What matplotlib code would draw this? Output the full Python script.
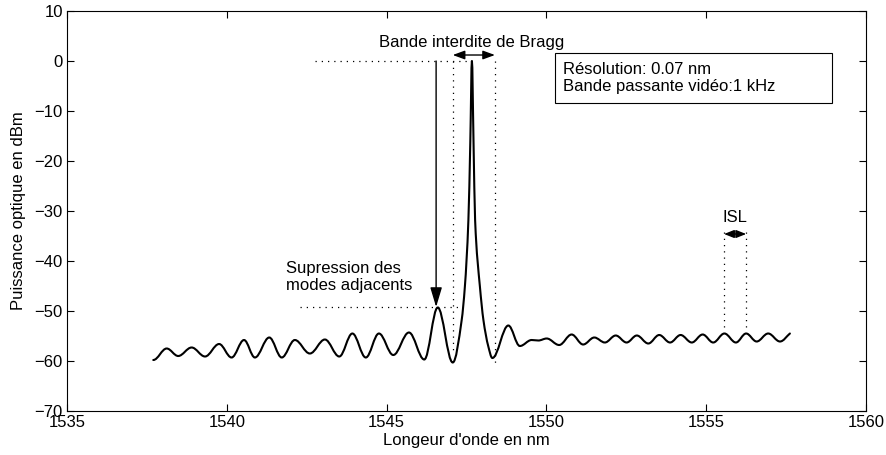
import numpy as np
import matplotlib
matplotlib.use("Agg")
import matplotlib.pyplot as plt
from matplotlib.path import Path
from matplotlib.patches import PathPatch, Rectangle

plt.rcParams["font.family"] = ["Liberation Sans", "DejaVu Sans"]
plt.rcParams["font.size"] = 12

# ── Spectrum (extrema + points on the main peak) ───────────────────────────
wavelength = [
    1537.70, 1538.12, 1538.48, 1538.90, 1539.32, 1539.76, 1540.15, 1540.54,
    1540.88, 1541.33, 1541.72, 1542.13, 1542.60, 1543.07, 1543.52, 1543.93,
    1544.35, 1544.76, 1545.21, 1545.70, 1546.18, 1546.60, 1547.07,
    1547.35, 1547.45, 1547.56, 1547.62, 1547.67, 1547.72, 1547.77, 1547.92,
    1548.03, 1548.18, 1548.31,
    1548.81, 1549.17, 1549.54, 1549.75, 1550.01, 1550.40, 1550.79, 1551.15,
    1551.50, 1551.83, 1552.17, 1552.51, 1552.83, 1553.19, 1553.53, 1553.87,
    1554.20, 1554.55, 1554.89, 1555.22, 1555.57, 1555.93, 1556.25, 1556.58,
    1556.94, 1557.31, 1557.62,
]
power_dbm = [
    -59.8, -57.5, -59.0, -57.3, -59.1, -56.6, -59.3, -55.8,
    -59.3, -55.3, -59.3, -55.8, -58.5, -55.7, -59.1, -54.5,
    -59.3, -54.5, -58.8, -54.3, -59.7, -49.3, -60.3,
    -51.8, -45.1, -31.8, -16.0, 0.0, -16.0, -31.8, -45.1,
    -51.8, -57.0, -59.4,
    -52.9, -57.0, -55.8, -55.9, -55.5, -56.8, -54.7, -56.7,
    -55.3, -56.3, -54.9, -56.3, -54.9, -56.5, -54.8, -56.3,
    -54.8, -56.3, -54.7, -56.3, -54.5, -56.3, -54.5, -56.1,
    -54.5, -56.1, -54.5,
]

x_ticks = [1535, 1540, 1545, 1550, 1555, 1560]
y_ticks = [-70, -60, -50, -40, -30, -20, -10, 0, 10]

bragg_edges = (1547.07, 1548.39)
side_mode = (1546.55, -49.2)
isl_edges = (1555.56, 1556.25)


def smooth_path(x, y):
    # monotone cubic bezier through the read points (flat at extrema)
    x = np.asarray(x, float)
    y = np.asarray(y, float)
    h = np.diff(x)
    delta = np.diff(y) / h
    d = np.zeros_like(y)
    for k in range(1, len(x) - 1):
        if delta[k - 1] * delta[k] > 0:
            w1 = 2 * h[k] + h[k - 1]
            w2 = h[k] + 2 * h[k - 1]
            d[k] = (w1 + w2) / (w1 / delta[k - 1] + w2 / delta[k])
    d[-1] = delta[-1]
    f = np.where(d == 0, 0.364, 1 / 3)
    verts = [(x[0], y[0])]
    codes = [Path.MOVETO]
    for k in range(len(h)):
        a, b = f[k] * h[k], f[k + 1] * h[k]
        verts += [(x[k] + a, y[k] + d[k] * a),
                  (x[k + 1] - b, y[k + 1] - d[k + 1] * b),
                  (x[k + 1], y[k + 1])]
        codes += [Path.CURVE4] * 3
    return Path(verts, codes)


fig = plt.figure(figsize=(8.86, 4.55), dpi=100)
ax = fig.add_axes([0.0756, 0.0967, 0.9018, 0.8791])

ax.add_patch(PathPatch(smooth_path(wavelength, power_dbm), fill=False,
                       ec="k", lw=1.5, joinstyle="round", capstyle="round"))

dot = dict(color="k", lw=0.9, ls=(0, (1, 4)))

# Bragg band edges + levels
ax.plot([1542.76, 1547.67], [0, 0], **dot)
ax.plot([bragg_edges[0]] * 2, [0, -58.4], **dot)
ax.plot([bragg_edges[1]] * 2, [0, -61.2], **dot)
ax.plot([1542.29, 1547.39], [side_mode[1], side_mode[1]], **dot)

ax.annotate("", xy=(bragg_edges[0], 1.2), xytext=(bragg_edges[1], 1.2),
            arrowprops=dict(arrowstyle="<|-|>,head_length=0.6,head_width=0.22",
                            color="k", lw=1.0, shrinkA=0, shrinkB=0))
ax.text(1547.67, 3.8, "Bande interdite de Bragg", ha="center", va="center")

# side mode suppression arrow
ax.annotate("", xy=side_mode, xytext=(side_mode[0], 0),
            arrowprops=dict(arrowstyle="-|>,head_length=1.0,head_width=0.3",
                            color="k", lw=1.0, shrinkA=0, shrinkB=0))
ax.text(1541.85, -43.2, "Supression des\nmodes adjacents", ha="left",
        va="center", linespacing=1.2)

# ISL
ax.plot([isl_edges[0]] * 2, [-34.1, -53.1], **dot)
ax.plot([isl_edges[1]] * 2, [-34.1, -53.1], **dot)
ax.annotate("", xy=(isl_edges[0], -34.6), xytext=(isl_edges[1], -34.6),
            arrowprops=dict(arrowstyle="<|-|>,head_length=0.5,head_width=0.2",
                            color="k", lw=1.0, shrinkA=0, shrinkB=0))
ax.text(1555.90, -31.2, "ISL", ha="center", va="center")

# settings box
ax.add_patch(Rectangle((1550.27, -8.4), 8.67, 10.0, fill=False,
                       ec="k", lw=0.8))
ax.text(1550.52, -3.4, "Résolution: 0.07 nm\nBande passante vidéo:1 kHz",
        ha="left", va="center", linespacing=1.2)

ax.set_xlim(1535, 1560)
ax.set_ylim(-70, 10)
ax.set_xticks(x_ticks)
ax.set_yticks(y_ticks)
ax.tick_params(direction="in", length=5, width=0.8, top=True, right=True,
               labelsize=12, pad=3)
for s in ax.spines.values():
    s.set_linewidth(0.8)
ax.set_xlabel("Longeur d'onde en nm", labelpad=2)
ax.set_ylabel("Puissance optique en dBm", labelpad=6)

fig.savefig("out.png", dpi=100)
